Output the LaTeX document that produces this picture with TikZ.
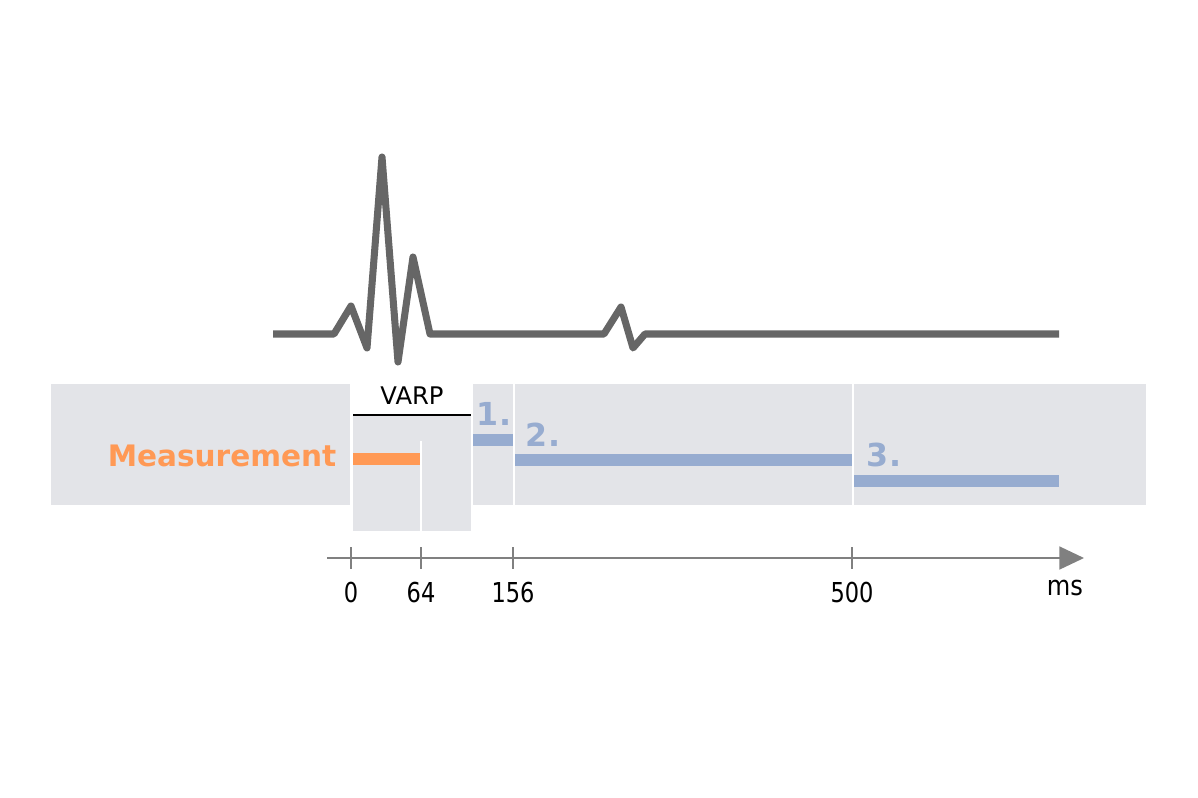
\documentclass[tikz,border=0pt]{standalone}
\usepackage{fontspec}
\setmainfont{DejaVu Sans}
\newfontfamily\axisfont[FakeStretch=0.82]{DejaVu Sans}
\newfontfamily\unitfont[FakeStretch=0.88]{DejaVu Sans}
\usetikzlibrary{arrows.meta,positioning}
\definecolor{bandgray}{RGB}{227,228,232}
\definecolor{measorange}{RGB}{255,153,85}
\definecolor{barblue}{RGB}{151,172,208}
\definecolor{ecggray}{RGB}{102,102,102}
\definecolor{axisgray}{RGB}{128,128,128}

\begin{document}
\begin{tikzpicture}[>=Latex, x=0.01cm, y=-0.01cm]
  \tikzstyle{band}=[fill=bandgray, draw=none]
  \tikzstyle{bar}=[line width=3.4pt]
  \tikzstyle{ecg}=[draw=ecggray, line width=2pt, line join=round]
  \tikzstyle{axis}=[draw=axisgray, line width=0.6pt]
  \tikzstyle{num}=[text=barblue, font=\fontsize{9}{10}\selectfont\bfseries, inner sep=0pt]
  \tikzstyle{lbl}=[font=\fontsize{7.8}{9}\axisfont, inner sep=0pt]
  \useasboundingbox (0,0) rectangle (1198,797);

  % heartbeat
  \draw[ecg] (273,334) -- (334,334) -- (351,306) -- (367,348) -- (382,157)
    -- (398,362) -- (413,257) -- (430,334) -- (604,334) -- (621,307)
    -- (633,348) -- (645,334) -- (1059,334);

  % time windows
  \fill[band] (51,384) rectangle (350,505);
  \fill[band] (353,415) rectangle (471,531);
  \fill[band] (473,384) rectangle (513,505);
  \fill[band] (515,384) rectangle (852,505);
  \fill[band] (854,384) rectangle (1146,505);
  \draw[white, line width=0.6pt] (421,441) -- (421,531);

  \node[anchor=east, inner sep=0pt, text=measorange, font=\fontsize{8.4}{10}\selectfont\bfseries] (meas) at (337,456) {Measurement};
  \draw[bar, measorange] (353,459) -- (420,459);
  \draw[bar, barblue] (473,440) -- (513,440);
  \draw[bar, barblue] (515,460) -- (852,460);
  \draw[bar, barblue] (854,481) -- (1059,481);
  \node[num] (first) at (494,414) {1.};
  \node[num] (second) at (543,435) {2.};
  \node[num] (third) at (884,455) {3.};

  \node[inner sep=0pt, font=\fontsize{6.9}{8}\selectfont] (varp) at (412,396) {VARP};
  \draw[line width=0.5pt] (353,415) -- (471,415);

  % time axis
  \coordinate (ax0) at (327,558);
  \coordinate (ax1) at (1084,558);
  \draw[axis, -{Triangle[length=7pt,width=6.5pt]}] (ax0) -- (ax1);
  \foreach \x/\t in {351/0, 421/64, 513/156, 852/500} {
    \draw[axis] (\x,547) -- (\x,569);
    \node[lbl] (t\t) at (\x,592) {\t};
  }
  \node[inner sep=0pt, font=\fontsize{7.8}{9}\unitfont] (unit) at (1065,588) {ms};
\end{tikzpicture}
\end{document}
